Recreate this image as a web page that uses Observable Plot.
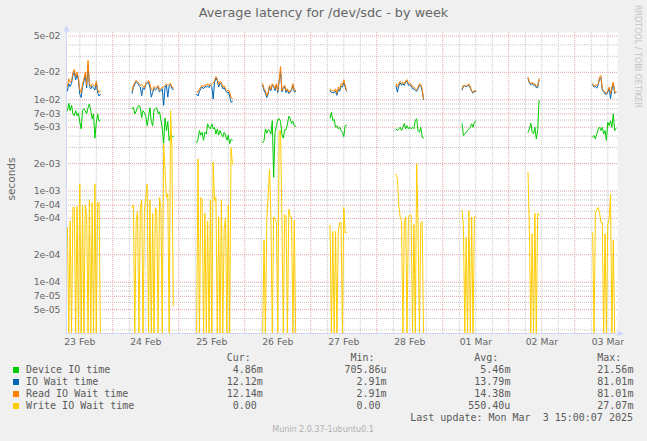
<!DOCTYPE html>
<html><head><meta charset="utf-8">
<script src="https://cdn.jsdelivr.net/npm/d3@7"></script>
<script src="https://cdn.jsdelivr.net/npm/@observablehq/plot@0.6"></script>
<style>
html,body{margin:0;padding:0;background:#f0f0f0;}
#chart{position:relative;width:647px;height:441px;overflow:hidden;background:#f0f0f0;color:#666;font-family:"DejaVu Sans",sans-serif;}
#chart svg{position:absolute;left:0;top:0;}
.t{position:absolute;line-height:1;white-space:pre;}
.mono{font-family:"DejaVu Sans Mono",monospace;font-size:10px;color:#5a5a5a;}
</style></head><body><div id="chart"></div>
<script>
// ---------- data (values in milliseconds, 30-minute averages) ----------
const titleText = "Average latency for /dev/sdc - by week";
const yAxisLabel = "seconds";
const seriesNames = ["Device IO time", "IO Wait time", "Read IO Wait time", "Write IO Wait time"];
const seriesColors = ["#00CC00", "#0066B3", "#FF8000", "#FFCC00"];
const segmentStarts = ["2025-02-23T07:30Z", "2025-02-24T07:00Z", "2025-02-25T06:30Z", "2025-02-26T06:30Z",
  "2025-02-27T07:00Z", "2025-02-28T07:00Z", "2025-03-01T07:00Z", "2025-03-02T07:00Z", "2025-03-03T06:30Z"];
const stepMinutes = 30;

const deviceIO = [
  [7.6, 9.2, 7.6, 8.7, 7.0, 6.7, 7.6, 6.7, 7.2, 5.7, 4.8, 7.6, 8.0, 7.6, 7.0, 8.2, 9.0, 7.6, 6.2, 7.0, 3.8, 5.6, 7.0, 5.8, 6.0],
  [8.0, 8.3, 7.0, 7.5, 8.3, 8.7, 8.2, 6.4, 7.6, 7.2, 6.6, 5.2, 6.4, 8.2, 5.8, 5.2, 7.8, 7.9, 8.2, 7.0, 7.4, 6.0, 4.8, 3.33, 6.3, 4.6, 5.8, 3.57, 4.2, 4.0, 3.95],
  [3.4, 3.7, 4.6, 4.1, 4.4, 3.6, 4.4, 4.2, 5.45, 5.0, 4.8, 5.45, 4.8, 5.0, 4.2, 4.8, 4.1, 4.6, 4.2, 3.9, 4.4, 4.1, 3.6, 4.1, 3.3, 3.7, 3.6],
  [3.4, 3.57, 4.8, 4.3, 4.7, 4.6, 4.2, 5.9, 1.41, 4.4, 5.2, 6.1, 6.2, 5.8, 4.2, 3.8, 4.7, 4.7, 5.4, 6.6, 6.3, 5.5, 5.8, 5.2, 5.1],
  [6.3, 7.3, 5.9, 6.1, 5.0, 5.2, 4.8, 5.0, 4.6, 4.4, 3.95, 5.2, 5.3],
  [4.8, 4.6, 4.8, 5.0, 4.6, 5.0, 5.5, 4.8, 5.2, 4.8, 5.0, 4.8, 5.0, 4.8, 6.0, 6.2, 4.6, 4.4, 5.0, 3.9, 3.8],
  [5.45, 4.06, 4.23, 4.4, 4.6, 4.8, 5.0, 5.45, 5.0, 5.67, 5.8],
  [4.4, 4.8, 5.55, 4.4, 4.23, 5.0, 3.72, 4.6, 9.8],
  [3.9, 4.06, 3.72, 4.23, 4.8, 5.0, 4.6, 5.0, 4.23, 4.6, 3.6, 5.67, 5.2, 5.9, 5.0, 7.0, 4.6, 4.86]
];
const ioWait = [
  [12.5, 15, 14, 15.2, 18.5, 20, 16.5, 19, 16.5, 11.5, 10.6, 14, 16, 18.5, 13.5, 24, 14, 13.2, 14.2, 13.5, 12.8, 15, 12, 11, 11.5],
  [11.8, 13.6, 14.8, 15.8, 15.2, 14.4, 13.8, 11.1, 13.6, 13.0, 14.6, 15.2, 15.6, 13.8, 10.7, 12.0, 13.4, 12.8, 13.2, 13.8, 12.2, 12.6, 13.2, 8.7, 13.8, 14.4, 10.7, 14.2, 14.6, 13.2, 13.0],
  [11.5, 11, 12.4, 13.2, 13.8, 13.2, 14, 13.8, 14.2, 13.6, 14.5, 14, 10.2, 15.5, 17.3, 16.2, 13.8, 15.2, 14.7, 13.2, 13.6, 12.6, 12, 12.2, 11, 9.4, 9.6],
  [14.4, 12.6, 11.8, 10.6, 11.6, 14, 12.6, 14.5, 14, 12.6, 14.6, 12, 15.8, 20.5, 12.2, 13.4, 14, 12, 12.8, 11.7, 12.2, 12.8, 14.6, 12.2, 12.4],
  [12.6, 12, 12, 12, 12.5, 11.2, 13, 12.4, 14, 13.8, 15.5, 13.8, 12.4],
  [14.2, 12.1, 14.2, 15.3, 14.4, 15, 14.4, 15.6, 16, 14.4, 14.6, 14.2, 13.2, 13.2, 12.6, 12.4, 13.2, 14.4, 14.2, 12.6, 10.1],
  [12.8, 14, 14.2, 13.9, 14.2, 14.4, 13.4, 12.4, 11.8, 12.4, 12.4],
  [17.2, 15.2, 14.6, 15.2, 14.4, 14.6, 13.6, 13.6, 16.5],
  [14.6, 13.8, 14, 13.4, 14.6, 16.8, 17.5, 12.8, 12.3, 11.6, 11.4, 12.2, 13.2, 10.3, 13, 15, 11.8, 12.12]
];
const readIOWait = [
  [14, 17, 15.5, 16, 20, 21.5, 18, 20, 17.5, 13, 12, 15, 17, 20, 14.5, 27, 15, 14, 15, 14.5, 14, 16, 13, 12, 12.5],
  [12.5, 14.5, 15.5, 16.4, 15.8, 15.0, 14.5, 14.7, 14.2, 13.6, 15.2, 15.8, 16.3, 15.0, 13.0, 12.6, 14.0, 13.4, 13.8, 14.4, 12.8, 13.2, 13.8, 13.8, 14.4, 15.0, 14.4, 14.8, 15.2, 13.8, 13.5],
  [12.2, 12.2, 13, 13.8, 14.5, 14, 14.7, 14.3, 15, 14.3, 15.2, 14.7, 15.2, 16.3, 18, 17, 14.7, 16, 15.5, 13.8, 14.3, 13.3, 12.6, 12.8, 12.2, 10.7, 10.2],
  [15, 13.2, 12.6, 11.1, 12.1, 14.4, 13, 15, 14.4, 13.2, 15, 12.6, 16.3, 23.2, 12.6, 13.8, 14.4, 12.6, 13.2, 12.1, 12.6, 13.2, 15, 12.6, 12.8],
  [13.2, 12.4, 12.6, 12.5, 13.2, 11.8, 13.8, 13, 15, 14.4, 16.6, 14.4, 12.6],
  [15, 13.8, 15, 16, 15, 15.6, 15, 16.3, 16.6, 15, 15.2, 14.8, 13.8, 13.8, 13.2, 12.9, 13.8, 15, 14.8, 13.2, 10.3],
  [13.2, 14.4, 14.4, 14.1, 14.4, 15, 13.8, 12.6, 12, 12.6, 12.5],
  [17.7, 15.6, 15, 15.6, 14.8, 15, 14.1, 14.1, 17],
  [15, 14.1, 14.4, 14.4, 15, 17.7, 18.5, 13.2, 12.6, 12.1, 11.8, 12.6, 13.8, 11.8, 13.8, 15.6, 12.1, 12.14]
];
const writeIOWait = [
  [0.4, 0, 0.47, 0, 0.66, 0.66, 0, 0.68, 0, 1.2, 0, 0.7, 0, 0.7, 0.55, 0, 0.8, 0, 0.75, 0, 1.2, 0, 0.75, 0.75, 0],
  [0.66, 0.7, 0, 0.47, 0.6, 0, 0.66, 0.8, 0, 0.6, 0.85, 1.2, 0, 0.8, 0, 0.57, 0, 0.66, 0.6, 0, 0.85, 0.66, 0, 3.3, 1.67, 0.85, 0.93, 0, 7.6, 3.0, 0.055],
  [0, 2.25, 0, 0.85, 0.8, 0, 0.57, 0, 0.47, 0, 0.8, 0, 2.07, 0.78, 0.85, 0, 0.52, 0, 0.8, 0, 0.39, 0.5, 0, 0.7, 0, 3.0, 1.98],
  [0, 0.29, 0, 0.49, 0.9, 1.74, 0.52, 0, 0.52, 0.5, 0.45, 0, 4.6, 4.6, 0.52, 0, 0.55, 0.52, 0, 0.63, 0.52, 0.52, 0, 0.48, 0],
  [0.42, 0, 0.36, 0, 0.36, 0, 0.36, 0.45, 0.45, 0, 0.66, 0.35, 0.35],
  [1.53, 1.35, 0.7, 0.52, 0.47, 0, 0.45, 0.52, 0, 0.5, 0.55, 0.54, 0, 0.43, 0, 1.98, 0.42, 0, 0.45, 0.46, 0],
  [0.61, 0.42, 0, 0.31, 0, 0.61, 0, 0.52, 0, 0.52, 0.52],
  [1.6, 0.35, 0, 0.34, 0, 0.57, 0, 0.57, 0.55],
  [0.35, 0, 0.58, 0.62, 0.66, 0.58, 0.45, 0.45, 0, 0.34, 0, 0.43, 0.5, 0.93, 0, 0.29, 0, 0]
];

const xDomainStart = "2025-02-23T07:10Z";
const xDomainEnd = "2025-03-03T15:32Z";
const yDomain = [2.74e-5, 0.0547];
const yTicks = [5e-2, 2e-2, 1e-2, 7e-3, 5e-3, 2e-3, 1e-3, 7e-4, 5e-4, 2e-4, 1e-4, 7e-5, 5e-5];
const xLabelDays = ["2025-02-23", "2025-02-24", "2025-02-25", "2025-02-26", "2025-02-27",
  "2025-02-28", "2025-03-01", "2025-03-02", "2025-03-03"];

const legendHeaders = ["Cur:", "Min:", "Avg:", "Max:"];
const legendCur = ["4.86m", "12.12m", "12.14m", "0.00 "];
const legendMin = ["705.86u", "2.91m", "2.91m", "0.00 "];
const legendAvg = ["5.46m", "13.79m", "14.38m", "550.40u"];
const legendMax = ["21.56m", "81.01m", "81.01m", "27.07m"];
const lastUpdate = "Last update: Mon Mar  3 15:00:07 2025";
const versionText = "Munin 2.0.37-1ubuntu0.1";
const watermark = "RRDTOOL / TOBI OETIKER";

// ---------- build ----------
const zeroFloor = 1e-7; // zero on a log axis: clamped to the bottom edge
const seriesData = [deviceIO, ioWait, readIOWait, writeIOWait];
const points = [];
seriesNames.forEach((name, s) => {
  seriesData[s].forEach((seg, k) => {
    const t0 = +new Date(segmentStarts[k]);
    seg.forEach((ms, i) => points.push({
      series: name, key: name + "|" + k,
      t: new Date(t0 + i * stepMinutes * 60000),
      v: ms > 0 ? ms / 1000 : zeroFloor
    }));
  });
});

const xDomain = [new Date(xDomainStart), new Date(xDomainEnd)];
const yMajorSet = new Set(yTicks.map(v => v.toExponential(0)));
const yMinorGrid = [];
for (let e = -6; e <= -1; e++) for (let m = 1; m <= 9; m++) {
  const v = +(m + "e" + e);
  if (v >= yDomain[0] && v <= yDomain[1] && !yMajorSet.has(v.toExponential(0))) yMinorGrid.push(v);
}
const xMajorGrid = d3.utcDay.range(xDomain[0], xDomain[1]).filter(d => d > xDomain[0]);
const xMinorGrid = d3.utcHour.every(6).range(xDomain[0], xDomain[1]).filter(d => d.getUTCHours() !== 0 && d > xDomain[0]);
const xLabelTicks = xLabelDays.map(d => new Date(d + "T12:00Z"));

const fmtE = v => {
  const e = Math.floor(Math.log10(v) + 1e-9);
  const m = Math.round(v / Math.pow(10, e));
  return `${m}e${e < 0 ? "-" : "+"}${String(Math.abs(e)).padStart(2, "0")}`;
};

const axisColor = "#CFD6F8";
const plot = Plot.plot({
  width: 647, height: 441,
  marginLeft: 66, marginRight: 30, marginTop: 32, marginBottom: 108,
  style: {background: "transparent", fontFamily: "DejaVu Sans", fontSize: "9.3px", color: "#666", overflow: "visible"},
  x: {type: "utc", domain: xDomain, label: null},
  y: {type: "log", domain: yDomain, clamp: true, label: null, axis: null},
  color: {domain: seriesNames, range: seriesColors},
  marks: [
    Plot.frame({fill: "white", stroke: "none"}),
    Plot.ruleY(yMinorGrid, {stroke: "#c6c6c6", strokeDasharray: "1,1"}),
    Plot.ruleX(xMinorGrid, {stroke: "#c6c6c6", strokeDasharray: "1,1"}),
    Plot.ruleY(yTicks, {stroke: "#e7a4a4", strokeDasharray: "1,1"}),
    Plot.ruleX(xMajorGrid, {stroke: "#e7a4a4", strokeDasharray: "1,1"}),
    Plot.line(points, {x: "t", y: "v", z: "key", stroke: "series", strokeWidth: 1}),
    Plot.text(yTicks, {y: d => d, text: fmtE, frameAnchor: "left", textAnchor: "end", dx: -6, fill: "#666", fontSize: 9.3}),
    Plot.axisX({ticks: xLabelTicks, tickFormat: d3.utcFormat("%d %b"), tickSize: 0, tickPadding: 5, fill: "#666", label: null}),
    Plot.ruleX([xDomain[0]], {stroke: axisColor}),
    Plot.ruleY([yDomain[0]], {stroke: axisColor})
  ]
});
const chart = document.getElementById("chart");
chart.appendChild(plot);

// axis arrow heads
const xr = plot.scale("x").range, yr = plot.scale("y").range;
const svg = d3.select(plot);
svg.append("path").attr("d", `M${xr[0] + 0.5},${yr[1] - 7}l-3,6.5h6z`).attr("fill", axisColor);
svg.append("path").attr("d", `M${xr[1] + 7},${yr[0] + 0.5}l-6.5,-3v6z`).attr("fill", axisColor);
svg.append("line").attr("x1", xr[1]).attr("x2", xr[1] + 1).attr("y1", yr[0] + 0.5).attr("y2", yr[0] + 0.5).attr("stroke", axisColor);

// ---------- text helpers ----------
function addText(txt, o) {
  const el = document.createElement("div");
  el.className = "t" + (o.cls ? " " + o.cls : "");
  el.textContent = txt;
  const size = o.size || 10;
  el.style.fontSize = size + "px";
  el.style.top = (o.baseline - 0.846 * size) + "px";
  if (o.color) el.style.color = o.color;
  if (o.left != null) el.style.left = o.left + "px";
  if (o.right != null) el.style.right = (647 - o.right) + "px";
  if (o.center != null) { el.style.left = o.center + "px"; el.style.transform = "translateX(-50%)"; }
  chart.appendChild(el);
  return el;
}

addText(titleText, {center: 323.5, baseline: 17.7, size: 12.8, color: "#666"});

const yl = document.createElement("div");
yl.className = "t";
yl.textContent = yAxisLabel;
Object.assign(yl.style, {fontSize: "10.5px", left: "11px", top: "178.5px", transform: "translate(-50%,-50%) rotate(-90deg)", color: "#666"});
chart.appendChild(yl);

const wm = document.createElement("div");
wm.className = "t";
wm.textContent = watermark;
Object.assign(wm.style, {fontSize: "8px", left: "633px", top: "5px", writingMode: "vertical-rl", color: "#c4c4c4"});
chart.appendChild(wm);

// legend
const colRight = [262.8, 386.6, 510.4, 633.4];
const cols = [legendCur, legendMin, legendAvg, legendMax];
legendHeaders.forEach((h, c) => addText(h + "  ", {right: colRight[c], baseline: 361, cls: "mono"}));
seriesNames.forEach((name, r) => {
  const base = 373.3 + 12 * r;
  const sq = document.createElement("div");
  Object.assign(sq.style, {position: "absolute", left: "12.5px", top: (base - 6.3) + "px", width: "6px", height: "6px", background: seriesColors[r]});
  chart.appendChild(sq);
  addText(name, {left: 26, baseline: base, cls: "mono"});
  cols.forEach((col, c) => addText(col[r], {right: colRight[c], baseline: base, cls: "mono"}));
});
addText(lastUpdate, {right: 633, baseline: 421.3, cls: "mono"});
addText(versionText, {center: 323, baseline: 433, size: 8, color: "#b0b0b0"});
</script></body></html>
